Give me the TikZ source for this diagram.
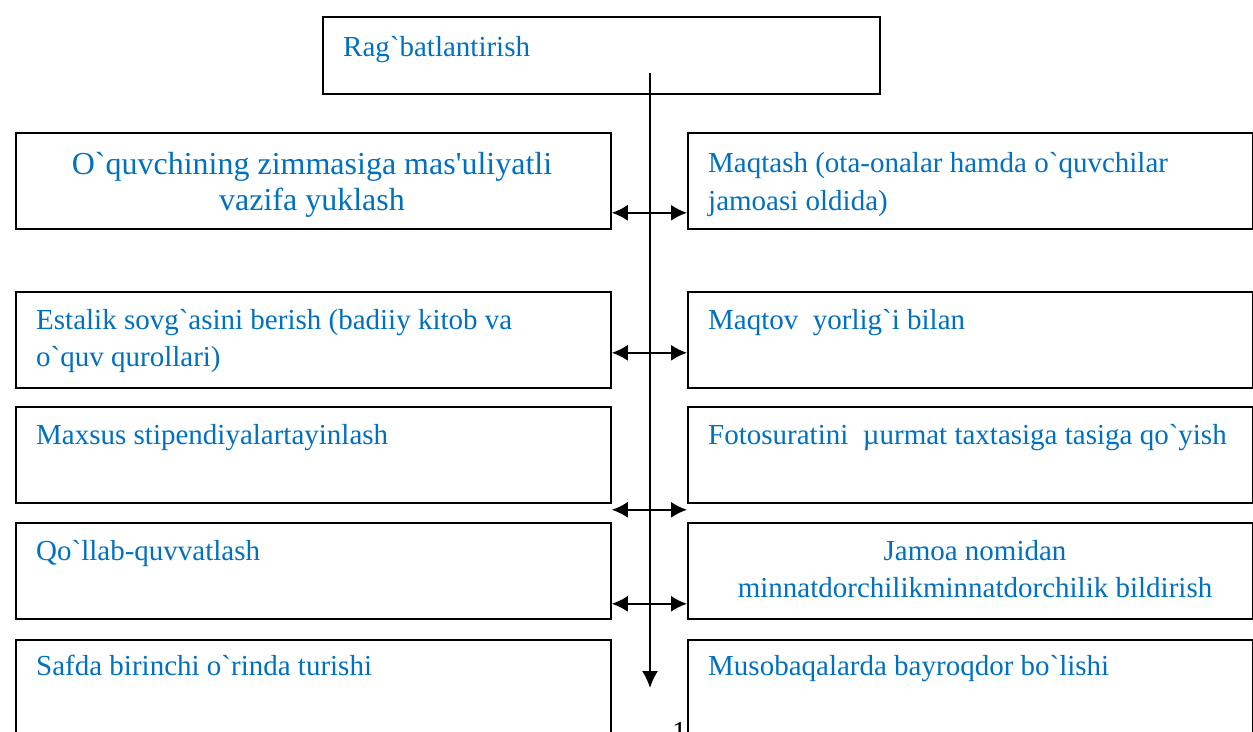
\documentclass[tikz,border=0pt]{standalone}
\usepackage{fontspec}
\setmainfont{Liberation Serif}[Ligatures=TeXOff]
\usetikzlibrary{arrows.meta}
\definecolor{txtblue}{RGB}{0,112,192}

\begin{document}
\begin{tikzpicture}[x=1pt,y=-1pt,
  box/.style={draw,line width=1.8pt,fill=white,anchor=north west,inner sep=0pt,minimum height=96pt},
  lbox/.style={box,minimum width=595pt},
  rbox/.style={box,minimum width=565pt},
  lbl/.style={anchor=base west,inner sep=0pt,text=txtblue,align=left,font=\fontsize{29}{37}\selectfont},
  dbl/.style={{Latex[length=16pt,width=16pt]}-{Latex[length=16pt,width=16pt]},line width=1.8pt}]
\useasboundingbox (0,0) rectangle (1253,731);
\node[anchor=base west,inner sep=0pt,font=\fontsize{29}{37}\selectfont] (pg) at (672,741) {11};
\node[box,minimum width=557pt,minimum height=77pt] (top) at (322,16) {};
\node[lbox] (l1) at (15,132) {};
\node[rbox] (r1) at (687,132) {};
\node[lbox] (l2) at (15,291) {};
\node[rbox] (r2) at (687,291) {};
\node[lbox] (l3) at (15,406) {};
\node[rbox] (r3) at (687,406) {};
\node[lbox] (l4) at (15,522) {};
\node[rbox] (r4) at (687,522) {};
\node[lbox,minimum height=120pt] (l5) at (15,639) {};
\node[rbox,minimum height=120pt] (r5) at (687,639) {};
\node[lbl] (t0) at (343,56) {Rag`batlantirish};
\node[lbl,anchor=base,align=center,font=\fontsize{32}{36}\selectfont] (t1l) at (312,210) {O`quvchining zimmasiga mas'uliyatli\\vazifa yuklash};
\node[lbl,font=\fontsize{29}{38}\selectfont] (t1r) at (708,210) {Maqtash (ota-onalar hamda o`quvchilar\\jamoasi oldida)};
\node[lbl] (t2l) at (36,366) {Estalik sovg`asini berish (badiiy kitob va\\o`quv qurollari)};
\node[lbl] (t2r) at (708,329) {Maqtov~~yorlig`i bilan};
\node[lbl] (t3l) at (36,444) {Maxsus stipendiyalartayinlash};
\node[lbl] (t3r) at (708,444) {Fotosuratini~~µurmat taxtasiga tasiga qo`yish};
\node[lbl] (t4l) at (36,560) {Qo`llab-quvvatlash};
\node[lbl,anchor=base,align=center] (t4r) at (975,597) {Jamoa nomidan\\minnatdorchilikminnatdorchilik bildirish};
\node[lbl] (t5l) at (36,675) {Safda birinchi o`rinda turishi};
\node[lbl] (t5r) at (708,675) {Musobaqalarda bayroqdor bo`lishi};
\draw[dbl] ([yshift=17pt]l1.south east) -- ([yshift=17pt]r1.south west);
\draw[dbl] ([yshift=36pt]l2.south east) -- ([yshift=36pt]r2.south west);
\draw[dbl] ([yshift=-6pt]l3.south east) -- ([yshift=-6pt]r3.south west);
\draw[dbl] ([yshift=16pt]l4.south east) -- ([yshift=16pt]r4.south west);
\coordinate (vtop) at (650,73);
\coordinate (vend) at (650,688);
\draw[-{Latex[length=17pt,width=16pt]},line width=1.8pt] (vtop) -- (vend);
\end{tikzpicture}
\end{document}
